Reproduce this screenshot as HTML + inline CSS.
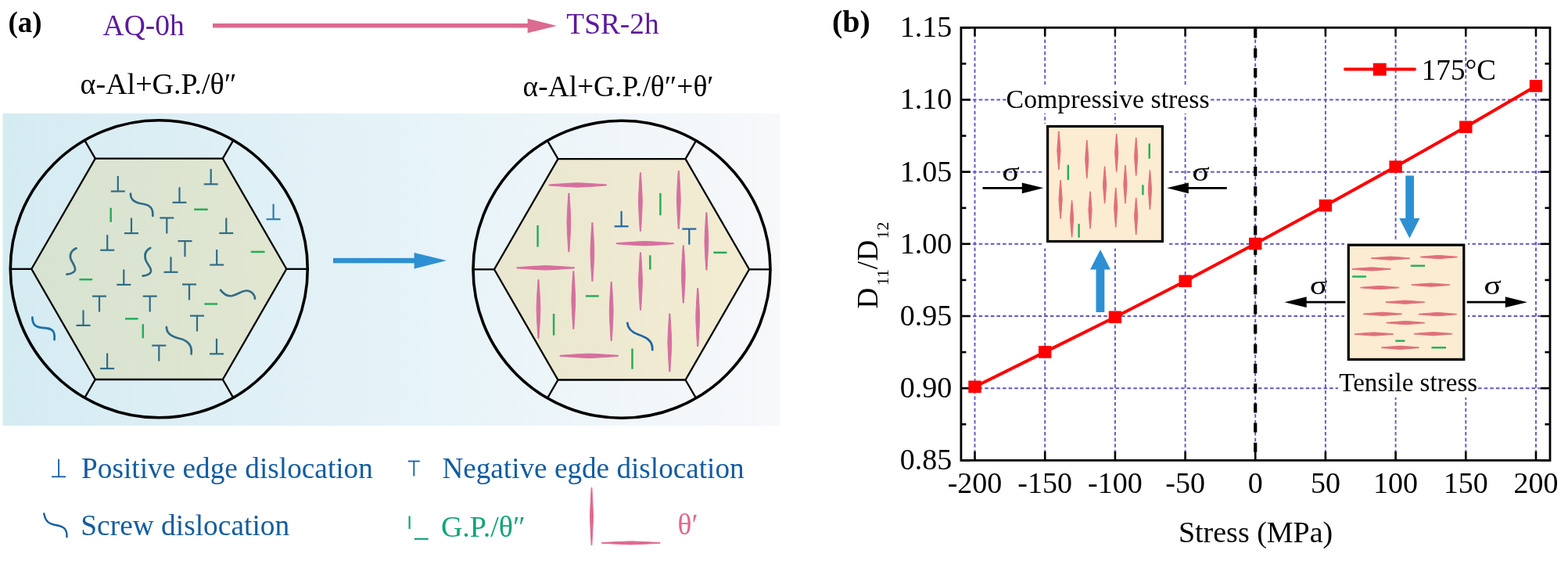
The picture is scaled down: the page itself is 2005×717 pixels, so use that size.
<!DOCTYPE html><html><head><meta charset="utf-8"><title>Figure</title><style>html,body{margin:0;padding:0;background:#fff;}svg{display:block;}</style></head><body><svg width="2005" height="717" viewBox="0 0 2005 717" font-family='"Liberation Serif", "DejaVu Serif", serif'>
<defs><linearGradient id="bg" x1="0" y1="0" x2="1" y2="0"><stop offset="0" stop-color="#d5ebf2"/><stop offset="0.5" stop-color="#e5f3f8"/><stop offset="1" stop-color="#f7f8fa"/></linearGradient><linearGradient id="hexL" x1="0" y1="0" x2="1" y2="0"><stop offset="0" stop-color="#d7e3d1"/><stop offset="1" stop-color="#e1e6d0"/></linearGradient><linearGradient id="hexR" x1="0" y1="0" x2="1" y2="0"><stop offset="0" stop-color="#e9e7d0"/><stop offset="1" stop-color="#f3ecd2"/></linearGradient></defs>
<rect x="0" y="0" width="2005" height="717" fill="#fff"/>
<text x="10.5" y="41.3" font-size="37" fill="#000" text-anchor="start" font-weight="bold" >(a)</text>
<text x="131.6" y="45.4" font-size="37.5" fill="#5c1a9c" text-anchor="start" font-weight="normal" >AQ-0h</text>
<line x1="272.0" y1="32.8" x2="676.0" y2="32.8" stroke="#dc6a91" stroke-width="5.6" />
<polygon points="674.6,23.8 712,33 674.6,42.3" fill="#dc6a91"/>
<text x="724.3" y="42.8" font-size="37.4" fill="#5c1a9c" text-anchor="start" font-weight="normal" >TSR-2h</text>
<text x="102.6" y="119.7" font-size="38" fill="#000" text-anchor="start" font-weight="normal" >α-Al+G.P./θ″</text>
<text x="668.6" y="123.4" font-size="37.4" fill="#000" text-anchor="start" font-weight="normal" >α-Al+G.P./θ″+θ′</text>
<rect x="3.5" y="145" width="993.5" height="399" fill="url(#bg)"/>
<polygon points="40.3,343.8 121.8,202.6 284.8,202.6 366.3,343.8 284.8,485.0 121.8,485.0" fill="url(#hexL)" stroke="#000" stroke-width="2.3" stroke-linejoin="miter"/>
<line x1="40.3" y1="343.8" x2="13.3" y2="343.8" stroke="#000" stroke-width="2.3" />
<line x1="121.8" y1="202.6" x2="108.3" y2="179.3" stroke="#000" stroke-width="2.3" />
<line x1="284.8" y1="202.6" x2="298.3" y2="179.3" stroke="#000" stroke-width="2.3" />
<line x1="366.3" y1="343.8" x2="393.3" y2="343.8" stroke="#000" stroke-width="2.3" />
<line x1="284.8" y1="485.0" x2="298.3" y2="508.3" stroke="#000" stroke-width="2.3" />
<line x1="121.8" y1="485.0" x2="108.3" y2="508.3" stroke="#000" stroke-width="2.3" />
<circle cx="203.3" cy="343.8" r="190" fill="none" stroke="#000" stroke-width="3.6"/>
<polygon points="632.0,344.3 713.5,203.1 876.5,203.1 958.0,344.3 876.5,485.5 713.5,485.5" fill="url(#hexR)" stroke="#000" stroke-width="2.3" stroke-linejoin="miter"/>
<line x1="632.0" y1="344.3" x2="605.0" y2="344.3" stroke="#000" stroke-width="2.3" />
<line x1="713.5" y1="203.1" x2="700.0" y2="179.8" stroke="#000" stroke-width="2.3" />
<line x1="876.5" y1="203.1" x2="890.0" y2="179.8" stroke="#000" stroke-width="2.3" />
<line x1="958.0" y1="344.3" x2="985.0" y2="344.3" stroke="#000" stroke-width="2.3" />
<line x1="876.5" y1="485.5" x2="890.0" y2="508.8" stroke="#000" stroke-width="2.3" />
<line x1="713.5" y1="485.5" x2="700.0" y2="508.8" stroke="#000" stroke-width="2.3" />
<circle cx="795.0" cy="344.3" r="190" fill="none" stroke="#000" stroke-width="3.6"/>
<line x1="150.8" y1="225.0" x2="150.8" y2="244.5" stroke="#2f6c88" stroke-width="2.2" />
<line x1="141.8" y1="244.5" x2="159.8" y2="244.5" stroke="#2f6c88" stroke-width="2.2" />
<line x1="229.5" y1="239.3" x2="229.5" y2="258.8" stroke="#2f6c88" stroke-width="2.2" />
<line x1="220.5" y1="258.8" x2="238.5" y2="258.8" stroke="#2f6c88" stroke-width="2.2" />
<line x1="269.7" y1="215.9" x2="269.7" y2="235.4" stroke="#2f6c88" stroke-width="2.2" />
<line x1="260.7" y1="235.4" x2="278.7" y2="235.4" stroke="#2f6c88" stroke-width="2.2" />
<line x1="168.0" y1="278.6" x2="168.0" y2="298.1" stroke="#2f6c88" stroke-width="2.2" />
<line x1="159.0" y1="298.1" x2="177.0" y2="298.1" stroke="#2f6c88" stroke-width="2.2" />
<line x1="289.3" y1="278.5" x2="289.3" y2="298.0" stroke="#2f6c88" stroke-width="2.2" />
<line x1="280.3" y1="298.0" x2="298.3" y2="298.0" stroke="#2f6c88" stroke-width="2.2" />
<line x1="137.2" y1="300.2" x2="137.2" y2="319.7" stroke="#2f6c88" stroke-width="2.2" />
<line x1="128.2" y1="319.7" x2="146.2" y2="319.7" stroke="#2f6c88" stroke-width="2.2" />
<line x1="277.2" y1="319.0" x2="277.2" y2="338.5" stroke="#2f6c88" stroke-width="2.2" />
<line x1="268.2" y1="338.5" x2="286.2" y2="338.5" stroke="#2f6c88" stroke-width="2.2" />
<line x1="218.5" y1="328.3" x2="218.5" y2="347.8" stroke="#2f6c88" stroke-width="2.2" />
<line x1="209.5" y1="347.8" x2="227.5" y2="347.8" stroke="#2f6c88" stroke-width="2.2" />
<line x1="158.3" y1="344.4" x2="158.3" y2="363.9" stroke="#2f6c88" stroke-width="2.2" />
<line x1="149.3" y1="363.9" x2="167.3" y2="363.9" stroke="#2f6c88" stroke-width="2.2" />
<line x1="106.5" y1="396.4" x2="106.5" y2="415.9" stroke="#2f6c88" stroke-width="2.2" />
<line x1="97.5" y1="415.9" x2="115.5" y2="415.9" stroke="#2f6c88" stroke-width="2.2" />
<line x1="137.1" y1="451.5" x2="137.1" y2="471.0" stroke="#2f6c88" stroke-width="2.2" />
<line x1="128.1" y1="471.0" x2="146.1" y2="471.0" stroke="#2f6c88" stroke-width="2.2" />
<line x1="277.0" y1="432.8" x2="277.0" y2="452.3" stroke="#2f6c88" stroke-width="2.2" />
<line x1="268.0" y1="452.3" x2="286.0" y2="452.3" stroke="#2f6c88" stroke-width="2.2" />
<line x1="349.6" y1="260.7" x2="349.6" y2="280.2" stroke="#2f7ab0" stroke-width="2.2" />
<line x1="340.6" y1="280.2" x2="358.6" y2="280.2" stroke="#2f7ab0" stroke-width="2.2" />
<line x1="204.3" y1="278.5" x2="222.3" y2="278.5" stroke="#2f6c88" stroke-width="2.2" />
<line x1="213.3" y1="278.5" x2="213.3" y2="298.5" stroke="#2f6c88" stroke-width="2.2" />
<line x1="227.5" y1="308.1" x2="245.5" y2="308.1" stroke="#2f6c88" stroke-width="2.2" />
<line x1="236.5" y1="308.1" x2="236.5" y2="328.1" stroke="#2f6c88" stroke-width="2.2" />
<line x1="118.0" y1="378.6" x2="136.0" y2="378.6" stroke="#2f6c88" stroke-width="2.2" />
<line x1="127.0" y1="378.6" x2="127.0" y2="398.6" stroke="#2f6c88" stroke-width="2.2" />
<line x1="182.7" y1="378.6" x2="200.7" y2="378.6" stroke="#2f6c88" stroke-width="2.2" />
<line x1="191.7" y1="378.6" x2="191.7" y2="398.6" stroke="#2f6c88" stroke-width="2.2" />
<line x1="194.3" y1="441.6" x2="212.3" y2="441.6" stroke="#2f6c88" stroke-width="2.2" />
<line x1="203.3" y1="441.6" x2="203.3" y2="461.6" stroke="#2f6c88" stroke-width="2.2" />
<line x1="233.0" y1="363.5" x2="251.0" y2="363.5" stroke="#2f6c88" stroke-width="2.2" />
<line x1="242.0" y1="363.5" x2="242.0" y2="383.5" stroke="#2f6c88" stroke-width="2.2" />
<line x1="243.0" y1="403.6" x2="261.0" y2="403.6" stroke="#2f6c88" stroke-width="2.2" />
<line x1="252.0" y1="403.6" x2="252.0" y2="423.6" stroke="#2f6c88" stroke-width="2.2" />
<line x1="141.7" y1="265.7" x2="141.7" y2="283.9" stroke="#27ad5a" stroke-width="2.5" />
<line x1="248.1" y1="267.7" x2="265.7" y2="267.7" stroke="#27ad5a" stroke-width="2.5" />
<line x1="320.7" y1="321.9" x2="338.5" y2="321.9" stroke="#27ad5a" stroke-width="2.5" />
<line x1="101.4" y1="357.2" x2="118.1" y2="357.2" stroke="#27ad5a" stroke-width="2.5" />
<line x1="160.0" y1="407.4" x2="176.5" y2="407.4" stroke="#27ad5a" stroke-width="2.5" />
<line x1="182.8" y1="414.3" x2="182.8" y2="432.2" stroke="#27ad5a" stroke-width="2.5" />
<line x1="261.4" y1="388.5" x2="278.1" y2="388.5" stroke="#27ad5a" stroke-width="2.5" />
<path d="M167,247.5 C166.5,257 175,259.5 182,260.5 C192,262 196,266 195.3,275.8" fill="none" stroke="#2f6c88" stroke-width="2.7" stroke-linecap="round" />
<path d="M97.6,317.3 C91,320 88.5,326 90.5,331 C92.5,336 97,341 96,345 C95,349 90,350 85.4,350.6" fill="none" stroke="#2f6c88" stroke-width="2.7" stroke-linecap="round" />
<path d="M192.3,316.9 C186,320 184.5,326 186.2,332 C188,338 194,342 193,347 C192,351 187,352 182.7,352.7" fill="none" stroke="#2f6c88" stroke-width="2.7" stroke-linecap="round" />
<path d="M282.1,370.8 C287,377 292,379 297,378 C305,376 310,371 316,371.5 C322,372 326,377 326,381.8" fill="none" stroke="#2f6c88" stroke-width="2.7" stroke-linecap="round" />
<path d="M212.9,418.1 C213,428 222,431 229,432.5 C240,435 246,441 244.6,452.3" fill="none" stroke="#2f6c88" stroke-width="2.7" stroke-linecap="round" />
<path d="M41.4,405.7 C41.5,417 48,418.5 55,419 C66,419.5 71,422 69.5,434.1" fill="none" stroke="#1f6fa8" stroke-width="2.8" stroke-linecap="round" />
<polygon points="727.90,247.00 728.14,250.74 728.38,254.48 728.60,258.22 728.82,261.96 729.03,265.70 729.22,269.44 729.40,273.18 729.57,276.92 729.70,280.66 729.80,284.40 729.70,288.14 729.57,291.88 729.40,295.62 729.22,299.36 729.03,303.10 728.82,306.84 728.60,310.58 728.38,314.32 728.14,318.06 727.90,321.80 726.90,321.80 726.66,318.06 726.42,314.32 726.20,310.58 725.98,306.84 725.77,303.10 725.58,299.36 725.40,295.62 725.23,291.88 725.10,288.14 725.00,284.40 725.10,280.66 725.23,276.92 725.40,273.18 725.58,269.44 725.77,265.70 725.98,261.96 726.20,258.22 726.42,254.48 726.66,250.74 726.90,247.00" fill="#d66f9f" stroke="#d66f9f" stroke-width="1.0" stroke-linejoin="round"/>
<polygon points="757.90,284.40 758.14,288.16 758.38,291.92 758.60,295.68 758.82,299.44 759.03,303.20 759.22,306.96 759.40,310.72 759.57,314.48 759.70,318.24 759.80,322.00 759.70,325.76 759.57,329.52 759.40,333.28 759.22,337.04 759.03,340.80 758.82,344.56 758.60,348.32 758.38,352.08 758.14,355.84 757.90,359.60 756.90,359.60 756.66,355.84 756.42,352.08 756.20,348.32 755.98,344.56 755.77,340.80 755.58,337.04 755.40,333.28 755.23,329.52 755.10,325.76 755.00,322.00 755.10,318.24 755.23,314.48 755.40,310.72 755.58,306.96 755.77,303.20 755.98,299.44 756.20,295.68 756.42,291.92 756.66,288.16 756.90,284.40" fill="#d66f9f" stroke="#d66f9f" stroke-width="1.0" stroke-linejoin="round"/>
<polygon points="819.40,220.70 819.64,224.44 819.88,228.18 820.10,231.92 820.32,235.66 820.53,239.40 820.72,243.14 820.90,246.88 821.07,250.62 821.20,254.36 821.30,258.10 821.20,261.84 821.07,265.58 820.90,269.32 820.72,273.06 820.53,276.80 820.32,280.54 820.10,284.28 819.88,288.02 819.64,291.76 819.40,295.50 818.40,295.50 818.16,291.76 817.92,288.02 817.70,284.28 817.48,280.54 817.27,276.80 817.08,273.06 816.90,269.32 816.73,265.58 816.60,261.84 816.50,258.10 816.60,254.36 816.73,250.62 816.90,246.88 817.08,243.14 817.27,239.40 817.48,235.66 817.70,231.92 817.92,228.18 818.16,224.44 818.40,220.70" fill="#d66f9f" stroke="#d66f9f" stroke-width="1.0" stroke-linejoin="round"/>
<polygon points="868.30,218.30 868.54,222.01 868.78,225.72 869.00,229.43 869.22,233.14 869.43,236.85 869.62,240.56 869.80,244.27 869.97,247.98 870.10,251.69 870.20,255.40 870.10,259.11 869.97,262.82 869.80,266.53 869.62,270.24 869.43,273.95 869.22,277.66 869.00,281.37 868.78,285.08 868.54,288.79 868.30,292.50 867.30,292.50 867.06,288.79 866.82,285.08 866.60,281.37 866.38,277.66 866.17,273.95 865.98,270.24 865.80,266.53 865.63,262.82 865.50,259.11 865.40,255.40 865.50,251.69 865.63,247.98 865.80,244.27 865.98,240.56 866.17,236.85 866.38,233.14 866.60,229.43 866.82,225.72 867.06,222.01 867.30,218.30" fill="#d66f9f" stroke="#d66f9f" stroke-width="1.0" stroke-linejoin="round"/>
<polygon points="903.90,271.70 904.14,275.37 904.38,279.04 904.60,282.71 904.82,286.38 905.03,290.05 905.22,293.72 905.40,297.39 905.57,301.06 905.70,304.73 905.80,308.40 905.70,312.07 905.57,315.74 905.40,319.41 905.22,323.08 905.03,326.75 904.82,330.42 904.60,334.09 904.38,337.76 904.14,341.43 903.90,345.10 902.90,345.10 902.66,341.43 902.42,337.76 902.20,334.09 901.98,330.42 901.77,326.75 901.58,323.08 901.40,319.41 901.23,315.74 901.10,312.07 901.00,308.40 901.10,304.73 901.23,301.06 901.40,297.39 901.58,293.72 901.77,290.05 901.98,286.38 902.20,282.71 902.42,279.04 902.66,275.37 902.90,271.70" fill="#d66f9f" stroke="#d66f9f" stroke-width="1.0" stroke-linejoin="round"/>
<polygon points="819.50,322.80 819.74,326.48 819.98,330.16 820.20,333.84 820.42,337.52 820.63,341.20 820.82,344.88 821.00,348.56 821.17,352.24 821.30,355.92 821.40,359.60 821.30,363.28 821.17,366.96 821.00,370.64 820.82,374.32 820.63,378.00 820.42,381.68 820.20,385.36 819.98,389.04 819.74,392.72 819.50,396.40 818.50,396.40 818.26,392.72 818.02,389.04 817.80,385.36 817.58,381.68 817.37,378.00 817.18,374.32 817.00,370.64 816.83,366.96 816.70,363.28 816.60,359.60 816.70,355.92 816.83,352.24 817.00,348.56 817.18,344.88 817.37,341.20 817.58,337.52 817.80,333.84 818.02,330.16 818.26,326.48 818.50,322.80" fill="#d66f9f" stroke="#d66f9f" stroke-width="1.0" stroke-linejoin="round"/>
<polygon points="874.30,313.70 874.54,317.37 874.78,321.04 875.00,324.71 875.22,328.38 875.43,332.05 875.62,335.72 875.80,339.39 875.97,343.06 876.10,346.73 876.20,350.40 876.10,354.07 875.97,357.74 875.80,361.41 875.62,365.08 875.43,368.75 875.22,372.42 875.00,376.09 874.78,379.76 874.54,383.43 874.30,387.10 873.30,387.10 873.06,383.43 872.82,379.76 872.60,376.09 872.38,372.42 872.17,368.75 871.98,365.08 871.80,361.41 871.63,357.74 871.50,354.07 871.40,350.40 871.50,346.73 871.63,343.06 871.80,339.39 871.98,335.72 872.17,332.05 872.38,328.38 872.60,324.71 872.82,321.04 873.06,317.37 873.30,313.70" fill="#d66f9f" stroke="#d66f9f" stroke-width="1.0" stroke-linejoin="round"/>
<polygon points="689.00,357.30 689.24,361.06 689.48,364.83 689.70,368.60 689.92,372.36 690.13,376.12 690.32,379.89 690.50,383.66 690.67,387.42 690.80,391.19 690.90,394.95 690.80,398.72 690.67,402.48 690.50,406.25 690.32,410.01 690.13,413.78 689.92,417.54 689.70,421.31 689.48,425.07 689.24,428.84 689.00,432.60 688.00,432.60 687.76,428.84 687.52,425.07 687.30,421.31 687.08,417.54 686.87,413.78 686.68,410.01 686.50,406.25 686.33,402.48 686.20,398.72 686.10,394.95 686.20,391.19 686.33,387.42 686.50,383.66 686.68,379.89 686.87,376.12 687.08,372.36 687.30,368.60 687.52,364.83 687.76,361.06 688.00,357.30" fill="#d66f9f" stroke="#d66f9f" stroke-width="1.0" stroke-linejoin="round"/>
<polygon points="733.80,346.60 734.04,350.30 734.28,353.99 734.50,357.69 734.72,361.38 734.93,365.08 735.12,368.77 735.30,372.47 735.47,376.16 735.60,379.86 735.70,383.55 735.60,387.25 735.47,390.94 735.30,394.63 735.12,398.33 734.93,402.02 734.72,405.72 734.50,409.42 734.28,413.11 734.04,416.81 733.80,420.50 732.80,420.50 732.56,416.81 732.32,413.11 732.10,409.42 731.88,405.72 731.67,402.02 731.48,398.33 731.30,394.63 731.13,390.94 731.00,387.25 730.90,383.55 731.00,379.86 731.13,376.16 731.30,372.47 731.48,368.77 731.67,365.08 731.88,361.38 732.10,357.69 732.32,353.99 732.56,350.30 732.80,346.60" fill="#d66f9f" stroke="#d66f9f" stroke-width="1.0" stroke-linejoin="round"/>
<polygon points="782.20,360.20 782.44,363.96 782.68,367.73 782.90,371.50 783.12,375.26 783.33,379.02 783.52,382.79 783.70,386.56 783.87,390.32 784.00,394.08 784.10,397.85 784.00,401.62 783.87,405.38 783.70,409.14 783.52,412.91 783.33,416.68 783.12,420.44 782.90,424.20 782.68,427.97 782.44,431.74 782.20,435.50 781.20,435.50 780.96,431.74 780.72,427.97 780.50,424.20 780.28,420.44 780.07,416.68 779.88,412.91 779.70,409.14 779.53,405.38 779.40,401.62 779.30,397.85 779.40,394.08 779.53,390.32 779.70,386.56 779.88,382.79 780.07,379.02 780.28,375.26 780.50,371.50 780.72,367.73 780.96,363.96 781.20,360.20" fill="#d66f9f" stroke="#d66f9f" stroke-width="1.0" stroke-linejoin="round"/>
<polygon points="892.70,368.40 892.94,372.12 893.18,375.84 893.40,379.56 893.62,383.28 893.83,387.00 894.02,390.72 894.20,394.44 894.37,398.16 894.50,401.88 894.60,405.60 894.50,409.32 894.37,413.04 894.20,416.76 894.02,420.48 893.83,424.20 893.62,427.92 893.40,431.64 893.18,435.36 892.94,439.08 892.70,442.80 891.70,442.80 891.46,439.08 891.22,435.36 891.00,431.64 890.78,427.92 890.57,424.20 890.38,420.48 890.20,416.76 890.03,413.04 889.90,409.32 889.80,405.60 889.90,401.88 890.03,398.16 890.20,394.44 890.38,390.72 890.57,387.00 890.78,383.28 891.00,379.56 891.22,375.84 891.46,372.12 891.70,368.40" fill="#d66f9f" stroke="#d66f9f" stroke-width="1.0" stroke-linejoin="round"/>
<polygon points="856.80,400.80 857.04,404.51 857.28,408.22 857.50,411.93 857.72,415.64 857.93,419.35 858.12,423.06 858.30,426.77 858.47,430.48 858.60,434.19 858.70,437.90 858.60,441.61 858.47,445.32 858.30,449.03 858.12,452.74 857.93,456.45 857.72,460.16 857.50,463.87 857.28,467.58 857.04,471.29 856.80,475.00 855.80,475.00 855.56,471.29 855.32,467.58 855.10,463.87 854.88,460.16 854.67,456.45 854.48,452.74 854.30,449.03 854.13,445.32 854.00,441.61 853.90,437.90 854.00,434.19 854.13,430.48 854.30,426.77 854.48,423.06 854.67,419.35 854.88,415.64 855.10,411.93 855.32,408.22 855.56,404.51 855.80,400.80" fill="#d66f9f" stroke="#d66f9f" stroke-width="1.0" stroke-linejoin="round"/>
<polygon points="702.10,236.00 705.77,235.74 709.44,235.48 713.11,235.23 716.78,234.99 720.45,234.76 724.12,234.53 727.79,234.32 731.46,234.12 735.13,233.94 738.80,233.80 742.47,233.94 746.14,234.12 749.81,234.32 753.48,234.53 757.15,234.76 760.82,234.99 764.49,235.23 768.16,235.48 771.83,235.74 775.50,236.00 775.50,237.00 771.83,237.26 768.16,237.52 764.49,237.77 760.82,238.01 757.15,238.24 753.48,238.47 749.81,238.68 746.14,238.88 742.47,239.06 738.80,239.20 735.13,239.06 731.46,238.88 727.79,238.68 724.12,238.47 720.45,238.24 716.78,238.01 713.11,237.77 709.44,237.52 705.77,237.26 702.10,237.00" fill="#d66f9f" stroke="#d66f9f" stroke-width="1.0" stroke-linejoin="round"/>
<polygon points="788.20,310.70 791.86,310.44 795.51,310.18 799.17,309.93 802.82,309.69 806.48,309.46 810.13,309.23 813.78,309.02 817.44,308.82 821.10,308.64 824.75,308.50 828.40,308.64 832.06,308.82 835.72,309.02 839.37,309.23 843.02,309.46 846.68,309.69 850.33,309.93 853.99,310.18 857.64,310.44 861.30,310.70 861.30,311.70 857.64,311.96 853.99,312.22 850.33,312.47 846.68,312.71 843.02,312.94 839.37,313.17 835.72,313.38 832.06,313.58 828.40,313.76 824.75,313.90 821.10,313.76 817.44,313.58 813.78,313.38 810.13,313.17 806.48,312.94 802.82,312.71 799.17,312.47 795.51,312.22 791.86,311.96 788.20,311.70" fill="#d66f9f" stroke="#d66f9f" stroke-width="1.0" stroke-linejoin="round"/>
<polygon points="660.80,341.80 664.48,341.54 668.17,341.28 671.86,341.03 675.54,340.79 679.22,340.56 682.91,340.33 686.60,340.12 690.28,339.92 693.96,339.74 697.65,339.60 701.34,339.74 705.02,339.92 708.70,340.12 712.39,340.33 716.08,340.56 719.76,340.79 723.44,341.03 727.13,341.28 730.82,341.54 734.50,341.80 734.50,342.80 730.82,343.06 727.13,343.32 723.44,343.57 719.76,343.81 716.08,344.04 712.39,344.27 708.70,344.48 705.02,344.68 701.34,344.86 697.65,345.00 693.96,344.86 690.28,344.68 686.60,344.48 682.91,344.27 679.22,344.04 675.54,343.81 671.86,343.57 668.17,343.32 664.48,343.06 660.80,342.80" fill="#d66f9f" stroke="#d66f9f" stroke-width="1.0" stroke-linejoin="round"/>
<polygon points="716.00,454.30 719.73,454.04 723.45,453.78 727.17,453.53 730.90,453.29 734.62,453.06 738.35,452.83 742.08,452.62 745.80,452.42 749.52,452.24 753.25,452.10 756.98,452.24 760.70,452.42 764.42,452.62 768.15,452.83 771.88,453.06 775.60,453.29 779.33,453.53 783.05,453.78 786.77,454.04 790.50,454.30 790.50,455.30 786.77,455.56 783.05,455.82 779.33,456.07 775.60,456.31 771.88,456.54 768.15,456.77 764.42,456.98 760.70,457.18 756.98,457.36 753.25,457.50 749.52,457.36 745.80,457.18 742.08,456.98 738.35,456.77 734.62,456.54 730.90,456.31 727.17,456.07 723.45,455.82 719.73,455.56 716.00,455.30" fill="#d66f9f" stroke="#d66f9f" stroke-width="1.0" stroke-linejoin="round"/>
<line x1="687.6" y1="287.9" x2="687.6" y2="315.6" stroke="#27ad5a" stroke-width="2.5" />
<line x1="844.4" y1="246.9" x2="844.4" y2="275.2" stroke="#27ad5a" stroke-width="2.5" />
<line x1="831.3" y1="326.3" x2="831.3" y2="344.5" stroke="#27ad5a" stroke-width="2.5" />
<line x1="708.1" y1="401.0" x2="708.1" y2="428.6" stroke="#27ad5a" stroke-width="2.5" />
<line x1="808.5" y1="445.6" x2="808.5" y2="471.7" stroke="#27ad5a" stroke-width="2.5" />
<line x1="748.9" y1="378.4" x2="765.7" y2="378.4" stroke="#27ad5a" stroke-width="2.5" />
<line x1="912.3" y1="322.8" x2="929.5" y2="322.8" stroke="#27ad5a" stroke-width="2.5" />
<line x1="794.6" y1="269.8" x2="794.6" y2="289.3" stroke="#1f66a3" stroke-width="2.2" />
<line x1="785.6" y1="289.3" x2="803.6" y2="289.3" stroke="#1f66a3" stroke-width="2.2" />
<line x1="872.3" y1="292.6" x2="890.3" y2="292.6" stroke="#1f66a3" stroke-width="2.2" />
<line x1="881.3" y1="292.6" x2="881.3" y2="312.6" stroke="#1f66a3" stroke-width="2.2" />
<path d="M802.3,413 C803,421 809,425 816,427.5 C826,431 835,435 834.2,447.1" fill="none" stroke="#1f66a3" stroke-width="2.8" stroke-linecap="round" />
<rect x="426" y="329.8" width="104.5" height="6.5" fill="#2c90d3"/>
<polygon points="529.6,322.9 571,333.1 529.6,343.4" fill="#2c90d3"/>
<line x1="75.1" y1="586.8" x2="75.1" y2="609.3" stroke="#135ca0" stroke-width="1.8" />
<line x1="66.1" y1="609.3" x2="84.1" y2="609.3" stroke="#135ca0" stroke-width="1.8" />
<text x="104.0" y="611.0" font-size="37.3" fill="#135ca0" text-anchor="start" font-weight="normal" >Positive edge dislocation</text>
<line x1="521.8" y1="589.5" x2="536.8" y2="589.5" stroke="#135ca0" stroke-width="1.8" />
<line x1="529.3" y1="589.5" x2="529.3" y2="608.5" stroke="#135ca0" stroke-width="1.8" />
<text x="565.4" y="610.8" font-size="37.2" fill="#135ca0" text-anchor="start" font-weight="normal" >Negative egde dislocation</text>
<path d="M56.3,656.4 C58,667 63,669.5 71,671 C80,672.5 86,675 85.5,686.2" fill="none" stroke="#135ca0" stroke-width="2.4" stroke-linecap="round" />
<text x="103.3" y="684.0" font-size="37.4" fill="#135ca0" text-anchor="start" font-weight="normal" >Screw dislocation</text>
<line x1="523.6" y1="659.5" x2="523.6" y2="676.0" stroke="#12a47a" stroke-width="2.2" />
<line x1="529.8" y1="688.8" x2="547.7" y2="688.8" stroke="#12a47a" stroke-width="2.2" />
<text x="563.9" y="685.9" font-size="38" fill="#12a47a" text-anchor="start" font-weight="normal" >G.P./θ″</text>
<polygon points="756.80,623.30 757.00,626.97 757.20,630.65 757.39,634.32 757.58,638.00 757.76,641.67 757.93,645.35 758.10,649.02 758.25,652.70 758.39,656.38 758.50,660.05 758.39,663.72 758.25,667.40 758.10,671.07 757.93,674.75 757.76,678.42 757.58,682.10 757.39,685.77 757.20,689.45 757.00,693.12 756.80,696.80 756.20,696.80 756.00,693.12 755.80,689.45 755.61,685.77 755.42,682.10 755.24,678.42 755.07,674.75 754.90,671.07 754.75,667.40 754.61,663.72 754.50,660.05 754.61,656.38 754.75,652.70 754.90,649.02 755.07,645.35 755.24,641.67 755.42,638.00 755.61,634.32 755.80,630.65 756.00,626.97 756.20,623.30" fill="#e0688e" stroke="#e0688e" stroke-width="1.0" stroke-linejoin="round"/>
<polygon points="769.40,693.60 773.13,693.40 776.87,693.20 780.61,693.01 784.34,692.82 788.08,692.64 791.81,692.47 795.54,692.30 799.28,692.15 803.01,692.01 806.75,691.90 810.49,692.01 814.22,692.15 817.96,692.30 821.69,692.47 825.42,692.64 829.16,692.82 832.89,693.01 836.63,693.20 840.37,693.40 844.10,693.60 844.10,694.20 840.37,694.40 836.63,694.60 832.89,694.79 829.16,694.98 825.42,695.16 821.69,695.33 817.96,695.50 814.22,695.65 810.49,695.79 806.75,695.90 803.01,695.79 799.28,695.65 795.54,695.50 791.81,695.33 788.08,695.16 784.34,694.98 780.61,694.79 776.87,694.60 773.13,694.40 769.40,694.20" fill="#e0688e" stroke="#e0688e" stroke-width="1.0" stroke-linejoin="round"/>
<text x="866.5" y="683.4" font-size="37.4" fill="#e0688e" text-anchor="start" font-weight="normal" >θ′</text>
<text x="1063.9" y="41.3" font-size="40" fill="#000" text-anchor="start" font-weight="bold" >(b)</text>
<line x1="1246.5" y1="35.3" x2="1246.5" y2="588.4" stroke="#5e56c4" stroke-width="1.9" stroke-dasharray="4.5 3.1"/>
<line x1="1336.2" y1="35.3" x2="1336.2" y2="588.4" stroke="#5e56c4" stroke-width="1.9" stroke-dasharray="4.5 3.1"/>
<line x1="1425.9" y1="35.3" x2="1425.9" y2="588.4" stroke="#5e56c4" stroke-width="1.9" stroke-dasharray="4.5 3.1"/>
<line x1="1515.6" y1="35.3" x2="1515.6" y2="588.4" stroke="#5e56c4" stroke-width="1.9" stroke-dasharray="4.5 3.1"/>
<line x1="1694.9" y1="35.3" x2="1694.9" y2="588.4" stroke="#5e56c4" stroke-width="1.9" stroke-dasharray="4.5 3.1"/>
<line x1="1784.6" y1="35.3" x2="1784.6" y2="588.4" stroke="#5e56c4" stroke-width="1.9" stroke-dasharray="4.5 3.1"/>
<line x1="1874.3" y1="35.3" x2="1874.3" y2="588.4" stroke="#5e56c4" stroke-width="1.9" stroke-dasharray="4.5 3.1"/>
<line x1="1964.0" y1="35.3" x2="1964.0" y2="588.4" stroke="#5e56c4" stroke-width="1.9" stroke-dasharray="4.5 3.1"/>
<line x1="1228.9" y1="496.2" x2="1982.0" y2="496.2" stroke="#5e56c4" stroke-width="1.9" stroke-dasharray="4.5 3.1"/>
<line x1="1228.9" y1="404.0" x2="1982.0" y2="404.0" stroke="#5e56c4" stroke-width="1.9" stroke-dasharray="4.5 3.1"/>
<line x1="1228.9" y1="311.8" x2="1982.0" y2="311.8" stroke="#5e56c4" stroke-width="1.9" stroke-dasharray="4.5 3.1"/>
<line x1="1228.9" y1="219.7" x2="1982.0" y2="219.7" stroke="#5e56c4" stroke-width="1.9" stroke-dasharray="4.5 3.1"/>
<line x1="1228.9" y1="127.5" x2="1982.0" y2="127.5" stroke="#5e56c4" stroke-width="1.9" stroke-dasharray="4.5 3.1"/>
<line x1="1605.2" y1="35.3" x2="1605.2" y2="588.4" stroke="#5e56c4" stroke-width="1.9" stroke-dasharray="4.5 3.1"/>
<line x1="1605.2" y1="35.3" x2="1605.2" y2="588.4" stroke="#000" stroke-width="4.2" stroke-dasharray="12 13.2" stroke-dashoffset="-1.3"/>
<rect x="1228.9" y="35.3" width="753.1" height="553.1" fill="none" stroke="#000" stroke-width="2.8"/>
<line x1="1246.5" y1="588.4" x2="1246.5" y2="576.9" stroke="#000" stroke-width="2.6" />
<line x1="1246.5" y1="35.3" x2="1246.5" y2="46.3" stroke="#000" stroke-width="2.6" />
<line x1="1336.2" y1="588.4" x2="1336.2" y2="576.9" stroke="#000" stroke-width="2.6" />
<line x1="1336.2" y1="35.3" x2="1336.2" y2="46.3" stroke="#000" stroke-width="2.6" />
<line x1="1425.9" y1="588.4" x2="1425.9" y2="576.9" stroke="#000" stroke-width="2.6" />
<line x1="1425.9" y1="35.3" x2="1425.9" y2="46.3" stroke="#000" stroke-width="2.6" />
<line x1="1515.6" y1="588.4" x2="1515.6" y2="576.9" stroke="#000" stroke-width="2.6" />
<line x1="1515.6" y1="35.3" x2="1515.6" y2="46.3" stroke="#000" stroke-width="2.6" />
<line x1="1605.2" y1="588.4" x2="1605.2" y2="576.9" stroke="#000" stroke-width="2.6" />
<line x1="1605.2" y1="35.3" x2="1605.2" y2="46.3" stroke="#000" stroke-width="2.6" />
<line x1="1694.9" y1="588.4" x2="1694.9" y2="576.9" stroke="#000" stroke-width="2.6" />
<line x1="1694.9" y1="35.3" x2="1694.9" y2="46.3" stroke="#000" stroke-width="2.6" />
<line x1="1784.6" y1="588.4" x2="1784.6" y2="576.9" stroke="#000" stroke-width="2.6" />
<line x1="1784.6" y1="35.3" x2="1784.6" y2="46.3" stroke="#000" stroke-width="2.6" />
<line x1="1874.3" y1="588.4" x2="1874.3" y2="576.9" stroke="#000" stroke-width="2.6" />
<line x1="1874.3" y1="35.3" x2="1874.3" y2="46.3" stroke="#000" stroke-width="2.6" />
<line x1="1964.0" y1="588.4" x2="1964.0" y2="576.9" stroke="#000" stroke-width="2.6" />
<line x1="1964.0" y1="35.3" x2="1964.0" y2="46.3" stroke="#000" stroke-width="2.6" />
<line x1="1228.9" y1="588.4" x2="1240.9" y2="588.4" stroke="#000" stroke-width="2.6" />
<line x1="1982.0" y1="588.4" x2="1970.0" y2="588.4" stroke="#000" stroke-width="2.6" />
<line x1="1228.9" y1="496.2" x2="1240.9" y2="496.2" stroke="#000" stroke-width="2.6" />
<line x1="1982.0" y1="496.2" x2="1970.0" y2="496.2" stroke="#000" stroke-width="2.6" />
<line x1="1228.9" y1="404.0" x2="1240.9" y2="404.0" stroke="#000" stroke-width="2.6" />
<line x1="1982.0" y1="404.0" x2="1970.0" y2="404.0" stroke="#000" stroke-width="2.6" />
<line x1="1228.9" y1="311.8" x2="1240.9" y2="311.8" stroke="#000" stroke-width="2.6" />
<line x1="1982.0" y1="311.8" x2="1970.0" y2="311.8" stroke="#000" stroke-width="2.6" />
<line x1="1228.9" y1="219.7" x2="1240.9" y2="219.7" stroke="#000" stroke-width="2.6" />
<line x1="1982.0" y1="219.7" x2="1970.0" y2="219.7" stroke="#000" stroke-width="2.6" />
<line x1="1228.9" y1="127.5" x2="1240.9" y2="127.5" stroke="#000" stroke-width="2.6" />
<line x1="1982.0" y1="127.5" x2="1970.0" y2="127.5" stroke="#000" stroke-width="2.6" />
<line x1="1228.9" y1="35.3" x2="1240.9" y2="35.3" stroke="#000" stroke-width="2.6" />
<line x1="1982.0" y1="35.3" x2="1970.0" y2="35.3" stroke="#000" stroke-width="2.6" />
<line x1="1228.9" y1="542.3" x2="1235.4" y2="542.3" stroke="#000" stroke-width="2.6" />
<line x1="1982.0" y1="542.3" x2="1975.5" y2="542.3" stroke="#000" stroke-width="2.6" />
<line x1="1228.9" y1="450.1" x2="1235.4" y2="450.1" stroke="#000" stroke-width="2.6" />
<line x1="1982.0" y1="450.1" x2="1975.5" y2="450.1" stroke="#000" stroke-width="2.6" />
<line x1="1228.9" y1="357.9" x2="1235.4" y2="357.9" stroke="#000" stroke-width="2.6" />
<line x1="1982.0" y1="357.9" x2="1975.5" y2="357.9" stroke="#000" stroke-width="2.6" />
<line x1="1228.9" y1="265.8" x2="1235.4" y2="265.8" stroke="#000" stroke-width="2.6" />
<line x1="1982.0" y1="265.8" x2="1975.5" y2="265.8" stroke="#000" stroke-width="2.6" />
<line x1="1228.9" y1="173.6" x2="1235.4" y2="173.6" stroke="#000" stroke-width="2.6" />
<line x1="1982.0" y1="173.6" x2="1975.5" y2="173.6" stroke="#000" stroke-width="2.6" />
<line x1="1228.9" y1="81.4" x2="1235.4" y2="81.4" stroke="#000" stroke-width="2.6" />
<line x1="1982.0" y1="81.4" x2="1975.5" y2="81.4" stroke="#000" stroke-width="2.6" />
<text x="1246.5" y="630.2" font-size="38" fill="#000" text-anchor="middle" font-weight="normal" >-200</text>
<text x="1336.2" y="630.2" font-size="38" fill="#000" text-anchor="middle" font-weight="normal" >-150</text>
<text x="1425.9" y="630.2" font-size="38" fill="#000" text-anchor="middle" font-weight="normal" >-100</text>
<text x="1515.6" y="630.2" font-size="38" fill="#000" text-anchor="middle" font-weight="normal" >-50</text>
<text x="1605.2" y="630.2" font-size="38" fill="#000" text-anchor="middle" font-weight="normal" >0</text>
<text x="1694.9" y="630.2" font-size="38" fill="#000" text-anchor="middle" font-weight="normal" >50</text>
<text x="1784.6" y="630.2" font-size="38" fill="#000" text-anchor="middle" font-weight="normal" >100</text>
<text x="1874.3" y="630.2" font-size="38" fill="#000" text-anchor="middle" font-weight="normal" >150</text>
<text x="1964.0" y="630.2" font-size="38" fill="#000" text-anchor="middle" font-weight="normal" >200</text>
<text x="1217.2" y="600.3" font-size="38" fill="#000" text-anchor="end" font-weight="normal" >0.85</text>
<text x="1217.2" y="508.1" font-size="38" fill="#000" text-anchor="end" font-weight="normal" >0.90</text>
<text x="1217.2" y="415.9" font-size="38" fill="#000" text-anchor="end" font-weight="normal" >0.95</text>
<text x="1217.2" y="323.7" font-size="38" fill="#000" text-anchor="end" font-weight="normal" >1.00</text>
<text x="1217.2" y="231.6" font-size="38" fill="#000" text-anchor="end" font-weight="normal" >1.05</text>
<text x="1217.2" y="139.4" font-size="38" fill="#000" text-anchor="end" font-weight="normal" >1.10</text>
<text x="1217.2" y="47.2" font-size="38" fill="#000" text-anchor="end" font-weight="normal" >1.15</text>
<text x="1506.9" y="692.7" font-size="38" fill="#000" text-anchor="start" font-weight="normal" >Stress (MPa)</text>
<g transform="translate(1122.3,394.4) rotate(-90)"><text x="0" y="0" font-size="37">D</text><text x="29.2" y="13.3" font-size="22">11</text><text x="50.1" y="0" font-size="37">/</text><text x="60.8" y="0" font-size="37">D</text><text x="89.0" y="13.3" font-size="22">12</text></g>
<rect x="1287" y="110" width="260" height="35" fill="#fff"/>
<rect x="1333" y="158" width="161" height="159.5" fill="#fff"/>
<text x="1286.6" y="137.9" font-size="33.8" fill="#000" text-anchor="start" font-weight="normal" >Compressive stress</text>
<rect x="1339.6" y="161.5" width="146.8" height="147" fill="#fcecd2" stroke="#000" stroke-width="3.2"/>
<polygon points="1354.15,167.90 1354.35,170.34 1354.55,172.77 1354.75,175.21 1354.95,177.64 1355.14,180.07 1355.32,182.51 1355.51,184.94 1355.69,187.38 1355.85,189.81 1356.00,192.25 1355.85,194.69 1355.69,197.12 1355.51,199.56 1355.32,201.99 1355.14,204.43 1354.95,206.86 1354.75,209.29 1354.55,211.73 1354.35,214.16 1354.15,216.60 1353.65,216.60 1353.45,214.16 1353.25,211.73 1353.05,209.29 1352.85,206.86 1352.66,204.43 1352.48,201.99 1352.29,199.56 1352.11,197.12 1351.95,194.69 1351.80,192.25 1351.95,189.81 1352.11,187.38 1352.29,184.94 1352.48,182.51 1352.66,180.07 1352.85,177.64 1353.05,175.21 1353.25,172.77 1353.45,170.34 1353.65,167.90" fill="#e06f7a" stroke="#e06f7a" stroke-width="1.0" stroke-linejoin="round"/>
<polygon points="1390.05,179.10 1390.25,181.53 1390.45,183.97 1390.65,186.41 1390.85,188.84 1391.04,191.28 1391.22,193.71 1391.41,196.15 1391.59,198.58 1391.75,201.02 1391.90,203.45 1391.75,205.88 1391.59,208.32 1391.41,210.75 1391.22,213.19 1391.04,215.62 1390.85,218.06 1390.65,220.50 1390.45,222.93 1390.25,225.37 1390.05,227.80 1389.55,227.80 1389.35,225.37 1389.15,222.93 1388.95,220.50 1388.75,218.06 1388.56,215.62 1388.38,213.19 1388.19,210.75 1388.01,208.32 1387.85,205.88 1387.70,203.45 1387.85,201.02 1388.01,198.58 1388.19,196.15 1388.38,193.71 1388.56,191.28 1388.75,188.84 1388.95,186.41 1389.15,183.97 1389.35,181.53 1389.55,179.10" fill="#e06f7a" stroke="#e06f7a" stroke-width="1.0" stroke-linejoin="round"/>
<polygon points="1427.95,171.10 1428.15,173.53 1428.35,175.97 1428.55,178.41 1428.75,180.84 1428.94,183.28 1429.12,185.71 1429.31,188.15 1429.49,190.58 1429.65,193.02 1429.80,195.45 1429.65,197.88 1429.49,200.32 1429.31,202.75 1429.12,205.19 1428.94,207.62 1428.75,210.06 1428.55,212.50 1428.35,214.93 1428.15,217.37 1427.95,219.80 1427.45,219.80 1427.25,217.37 1427.05,214.93 1426.85,212.50 1426.65,210.06 1426.46,207.62 1426.28,205.19 1426.09,202.75 1425.91,200.32 1425.75,197.88 1425.60,195.45 1425.75,193.02 1425.91,190.58 1426.09,188.15 1426.28,185.71 1426.46,183.28 1426.65,180.84 1426.85,178.41 1427.05,175.97 1427.25,173.53 1427.45,171.10" fill="#e06f7a" stroke="#e06f7a" stroke-width="1.0" stroke-linejoin="round"/>
<polygon points="1452.95,175.90 1453.15,178.34 1453.35,180.77 1453.55,183.21 1453.75,185.64 1453.94,188.07 1454.12,190.51 1454.31,192.94 1454.49,195.38 1454.65,197.81 1454.80,200.25 1454.65,202.69 1454.49,205.12 1454.31,207.56 1454.12,209.99 1453.94,212.43 1453.75,214.86 1453.55,217.29 1453.35,219.73 1453.15,222.16 1452.95,224.60 1452.45,224.60 1452.25,222.16 1452.05,219.73 1451.85,217.29 1451.65,214.86 1451.46,212.43 1451.28,209.99 1451.09,207.56 1450.91,205.12 1450.75,202.69 1450.60,200.25 1450.75,197.81 1450.91,195.38 1451.09,192.94 1451.28,190.51 1451.46,188.07 1451.65,185.64 1451.85,183.21 1452.05,180.77 1452.25,178.34 1452.45,175.90" fill="#e06f7a" stroke="#e06f7a" stroke-width="1.0" stroke-linejoin="round"/>
<polygon points="1356.35,230.40 1356.55,232.84 1356.75,235.28 1356.95,237.72 1357.15,240.16 1357.34,242.60 1357.52,245.04 1357.71,247.48 1357.89,249.92 1358.05,252.36 1358.20,254.80 1358.05,257.24 1357.89,259.68 1357.71,262.12 1357.52,264.56 1357.34,267.00 1357.15,269.44 1356.95,271.88 1356.75,274.32 1356.55,276.76 1356.35,279.20 1355.85,279.20 1355.65,276.76 1355.45,274.32 1355.25,271.88 1355.05,269.44 1354.86,267.00 1354.68,264.56 1354.49,262.12 1354.31,259.68 1354.15,257.24 1354.00,254.80 1354.15,252.36 1354.31,249.92 1354.49,247.48 1354.68,245.04 1354.86,242.60 1355.05,240.16 1355.25,237.72 1355.45,235.28 1355.65,232.84 1355.85,230.40" fill="#e06f7a" stroke="#e06f7a" stroke-width="1.0" stroke-linejoin="round"/>
<polygon points="1370.85,256.10 1371.05,258.46 1371.25,260.81 1371.45,263.17 1371.65,265.52 1371.84,267.88 1372.02,270.23 1372.21,272.59 1372.39,274.94 1372.55,277.30 1372.70,279.65 1372.55,282.00 1372.39,284.36 1372.21,286.72 1372.02,289.07 1371.84,291.43 1371.65,293.78 1371.45,296.13 1371.25,298.49 1371.05,300.85 1370.85,303.20 1370.35,303.20 1370.15,300.85 1369.95,298.49 1369.75,296.13 1369.55,293.78 1369.36,291.43 1369.18,289.07 1368.99,286.72 1368.81,284.36 1368.65,282.00 1368.50,279.65 1368.65,277.30 1368.81,274.94 1368.99,272.59 1369.18,270.23 1369.36,267.88 1369.55,265.52 1369.75,263.17 1369.95,260.81 1370.15,258.46 1370.35,256.10" fill="#e06f7a" stroke="#e06f7a" stroke-width="1.0" stroke-linejoin="round"/>
<polygon points="1394.25,244.90 1394.45,247.25 1394.65,249.61 1394.85,251.97 1395.05,254.32 1395.24,256.68 1395.42,259.03 1395.61,261.38 1395.79,263.74 1395.95,266.10 1396.10,268.45 1395.95,270.81 1395.79,273.16 1395.61,275.51 1395.42,277.87 1395.24,280.23 1395.05,282.58 1394.85,284.94 1394.65,287.29 1394.45,289.64 1394.25,292.00 1393.75,292.00 1393.55,289.64 1393.35,287.29 1393.15,284.94 1392.95,282.58 1392.76,280.23 1392.58,277.87 1392.39,275.51 1392.21,273.16 1392.05,270.81 1391.90,268.45 1392.05,266.10 1392.21,263.74 1392.39,261.38 1392.58,259.03 1392.76,256.68 1392.95,254.32 1393.15,251.97 1393.35,249.61 1393.55,247.25 1393.75,244.90" fill="#e06f7a" stroke="#e06f7a" stroke-width="1.0" stroke-linejoin="round"/>
<polygon points="1412.85,212.80 1413.05,215.16 1413.25,217.51 1413.45,219.87 1413.65,222.22 1413.84,224.57 1414.02,226.93 1414.21,229.28 1414.39,231.64 1414.55,234.00 1414.70,236.35 1414.55,238.70 1414.39,241.06 1414.21,243.41 1414.02,245.77 1413.84,248.12 1413.65,250.48 1413.45,252.83 1413.25,255.19 1413.05,257.54 1412.85,259.90 1412.35,259.90 1412.15,257.54 1411.95,255.19 1411.75,252.83 1411.55,250.48 1411.36,248.12 1411.18,245.77 1410.99,243.41 1410.81,241.06 1410.65,238.70 1410.50,236.35 1410.65,234.00 1410.81,231.64 1410.99,229.28 1411.18,226.93 1411.36,224.57 1411.55,222.22 1411.75,219.87 1411.95,217.51 1412.15,215.16 1412.35,212.80" fill="#e06f7a" stroke="#e06f7a" stroke-width="1.0" stroke-linejoin="round"/>
<polygon points="1439.15,211.20 1439.35,213.63 1439.55,216.07 1439.75,218.50 1439.95,220.94 1440.14,223.38 1440.32,225.81 1440.51,228.24 1440.69,230.68 1440.85,233.11 1441.00,235.55 1440.85,237.98 1440.69,240.42 1440.51,242.85 1440.32,245.29 1440.14,247.72 1439.95,250.16 1439.75,252.59 1439.55,255.03 1439.35,257.46 1439.15,259.90 1438.65,259.90 1438.45,257.46 1438.25,255.03 1438.05,252.59 1437.85,250.16 1437.66,247.72 1437.48,245.29 1437.29,242.85 1437.11,240.42 1436.95,237.98 1436.80,235.55 1436.95,233.11 1437.11,230.68 1437.29,228.24 1437.48,225.81 1437.66,223.38 1437.85,220.94 1438.05,218.50 1438.25,216.07 1438.45,213.63 1438.65,211.20" fill="#e06f7a" stroke="#e06f7a" stroke-width="1.0" stroke-linejoin="round"/>
<polygon points="1426.95,240.10 1427.15,242.61 1427.35,245.13 1427.55,247.64 1427.75,250.16 1427.94,252.67 1428.12,255.19 1428.31,257.70 1428.49,260.22 1428.65,262.74 1428.80,265.25 1428.65,267.76 1428.49,270.28 1428.31,272.79 1428.12,275.31 1427.94,277.82 1427.75,280.34 1427.55,282.85 1427.35,285.37 1427.15,287.88 1426.95,290.40 1426.45,290.40 1426.25,287.88 1426.05,285.37 1425.85,282.85 1425.65,280.34 1425.46,277.82 1425.28,275.31 1425.09,272.79 1424.91,270.28 1424.75,267.76 1424.60,265.25 1424.75,262.74 1424.91,260.22 1425.09,257.70 1425.28,255.19 1425.46,252.67 1425.65,250.16 1425.85,247.64 1426.05,245.13 1426.25,242.61 1426.45,240.10" fill="#e06f7a" stroke="#e06f7a" stroke-width="1.0" stroke-linejoin="round"/>
<polygon points="1452.95,252.90 1453.15,255.25 1453.35,257.61 1453.55,259.97 1453.75,262.32 1453.94,264.68 1454.12,267.03 1454.31,269.38 1454.49,271.74 1454.65,274.10 1454.80,276.45 1454.65,278.81 1454.49,281.16 1454.31,283.51 1454.12,285.87 1453.94,288.23 1453.75,290.58 1453.55,292.94 1453.35,295.29 1453.15,297.64 1452.95,300.00 1452.45,300.00 1452.25,297.64 1452.05,295.29 1451.85,292.94 1451.65,290.58 1451.46,288.23 1451.28,285.87 1451.09,283.51 1450.91,281.16 1450.75,278.81 1450.60,276.45 1450.75,274.10 1450.91,271.74 1451.09,269.38 1451.28,267.03 1451.46,264.68 1451.65,262.32 1451.85,259.97 1452.05,257.61 1452.25,255.25 1452.45,252.90" fill="#e06f7a" stroke="#e06f7a" stroke-width="1.0" stroke-linejoin="round"/>
<polygon points="1470.65,217.60 1470.85,220.11 1471.05,222.63 1471.25,225.14 1471.45,227.66 1471.64,230.17 1471.82,232.69 1472.01,235.20 1472.19,237.72 1472.35,240.23 1472.50,242.75 1472.35,245.26 1472.19,247.78 1472.01,250.29 1471.82,252.81 1471.64,255.32 1471.45,257.84 1471.25,260.35 1471.05,262.87 1470.85,265.38 1470.65,267.90 1470.15,267.90 1469.95,265.38 1469.75,262.87 1469.55,260.35 1469.35,257.84 1469.16,255.32 1468.98,252.81 1468.79,250.29 1468.61,247.78 1468.45,245.26 1468.30,242.75 1468.45,240.23 1468.61,237.72 1468.79,235.20 1468.98,232.69 1469.16,230.17 1469.35,227.66 1469.55,225.14 1469.75,222.63 1469.95,220.11 1470.15,217.60" fill="#e06f7a" stroke="#e06f7a" stroke-width="1.0" stroke-linejoin="round"/>
<line x1="1365.8" y1="210.7" x2="1365.8" y2="229.9" stroke="#27ad5a" stroke-width="2.4" />
<line x1="1469.7" y1="183.4" x2="1469.7" y2="202.7" stroke="#27ad5a" stroke-width="2.4" />
<line x1="1461.4" y1="236.3" x2="1461.4" y2="249.2" stroke="#27ad5a" stroke-width="2.4" />
<line x1="1379.6" y1="286.1" x2="1379.6" y2="303.7" stroke="#27ad5a" stroke-width="2.4" />
<line x1="1256.5" y1="240.3" x2="1308.0" y2="240.3" stroke="#000" stroke-width="2.8" />
<polygon points="1306.8,233.4 1334.4,240.3 1306.8,247.2" fill="#000"/>
<line x1="1519.0" y1="240.3" x2="1568.8" y2="240.3" stroke="#000" stroke-width="2.8" />
<polygon points="1519.8,233.4 1492.2,240.3 1519.8,247.2" fill="#000"/>
<text x="0" y="0" font-size="33" transform="translate(1281.3,231.2) scale(1.27,1)">σ</text>
<text x="0" y="0" font-size="33" transform="translate(1524.2,231.2) scale(1.27,1)">σ</text>
<rect x="1719" y="306" width="158" height="156" fill="#fff"/>
<rect x="1724.3" y="313.1" width="147.5" height="146.3" fill="#fcecd2" stroke="#000" stroke-width="3.2"/>
<polygon points="1753.60,329.85 1756.04,329.65 1758.48,329.45 1760.92,329.25 1763.36,329.05 1765.80,328.86 1768.24,328.68 1770.68,328.49 1773.12,328.31 1775.56,328.15 1778.00,328.00 1780.44,328.15 1782.88,328.31 1785.32,328.49 1787.76,328.68 1790.20,328.86 1792.64,329.05 1795.08,329.25 1797.52,329.45 1799.96,329.65 1802.40,329.85 1802.40,330.35 1799.96,330.55 1797.52,330.75 1795.08,330.95 1792.64,331.15 1790.20,331.34 1787.76,331.52 1785.32,331.71 1782.88,331.89 1780.44,332.05 1778.00,332.20 1775.56,332.05 1773.12,331.89 1770.68,331.71 1768.24,331.52 1765.80,331.34 1763.36,331.15 1760.92,330.95 1758.48,330.75 1756.04,330.55 1753.60,330.35" fill="#e06f7a" stroke="#e06f7a" stroke-width="1.0" stroke-linejoin="round"/>
<polygon points="1816.20,328.25 1818.56,328.05 1820.91,327.85 1823.27,327.65 1825.62,327.45 1827.97,327.26 1830.33,327.08 1832.68,326.89 1835.04,326.71 1837.39,326.55 1839.75,326.40 1842.11,326.55 1844.46,326.71 1846.82,326.89 1849.17,327.08 1851.53,327.26 1853.88,327.45 1856.23,327.65 1858.59,327.85 1860.94,328.05 1863.30,328.25 1863.30,328.75 1860.94,328.95 1858.59,329.15 1856.23,329.35 1853.88,329.55 1851.53,329.74 1849.17,329.92 1846.82,330.11 1844.46,330.29 1842.11,330.45 1839.75,330.60 1837.39,330.45 1835.04,330.29 1832.68,330.11 1830.33,329.92 1827.97,329.74 1825.62,329.55 1823.27,329.35 1820.91,329.15 1818.56,328.95 1816.20,328.75" fill="#e06f7a" stroke="#e06f7a" stroke-width="1.0" stroke-linejoin="round"/>
<polygon points="1728.90,343.65 1731.37,343.45 1733.84,343.25 1736.31,343.05 1738.78,342.85 1741.25,342.66 1743.72,342.48 1746.19,342.29 1748.66,342.11 1751.13,341.95 1753.60,341.80 1756.07,341.95 1758.54,342.11 1761.01,342.29 1763.48,342.48 1765.95,342.66 1768.42,342.85 1770.89,343.05 1773.36,343.25 1775.83,343.45 1778.30,343.65 1778.30,344.15 1775.83,344.35 1773.36,344.55 1770.89,344.75 1768.42,344.95 1765.95,345.14 1763.48,345.32 1761.01,345.51 1758.54,345.69 1756.07,345.85 1753.60,346.00 1751.13,345.85 1748.66,345.69 1746.19,345.51 1743.72,345.32 1741.25,345.14 1738.78,344.95 1736.31,344.75 1733.84,344.55 1731.37,344.35 1728.90,344.15" fill="#e06f7a" stroke="#e06f7a" stroke-width="1.0" stroke-linejoin="round"/>
<polygon points="1739.80,367.35 1742.25,367.15 1744.71,366.95 1747.16,366.75 1749.62,366.55 1752.08,366.36 1754.53,366.18 1756.98,365.99 1759.44,365.81 1761.89,365.65 1764.35,365.50 1766.81,365.65 1769.26,365.81 1771.72,365.99 1774.17,366.18 1776.62,366.36 1779.08,366.55 1781.54,366.75 1783.99,366.95 1786.45,367.15 1788.90,367.35 1788.90,367.85 1786.45,368.05 1783.99,368.25 1781.54,368.45 1779.08,368.65 1776.62,368.84 1774.17,369.02 1771.72,369.21 1769.26,369.39 1766.81,369.55 1764.35,369.70 1761.89,369.55 1759.44,369.39 1756.98,369.21 1754.53,369.02 1752.08,368.84 1749.62,368.65 1747.16,368.45 1744.71,368.25 1742.25,368.05 1739.80,367.85" fill="#e06f7a" stroke="#e06f7a" stroke-width="1.0" stroke-linejoin="round"/>
<polygon points="1805.00,363.85 1807.43,363.65 1809.87,363.45 1812.31,363.25 1814.74,363.05 1817.17,362.86 1819.61,362.68 1822.05,362.49 1824.48,362.31 1826.91,362.15 1829.35,362.00 1831.79,362.15 1834.22,362.31 1836.65,362.49 1839.09,362.68 1841.53,362.86 1843.96,363.05 1846.39,363.25 1848.83,363.45 1851.27,363.65 1853.70,363.85 1853.70,364.35 1851.27,364.55 1848.83,364.75 1846.39,364.95 1843.96,365.15 1841.53,365.34 1839.09,365.52 1836.65,365.71 1834.22,365.89 1831.79,366.05 1829.35,366.20 1826.91,366.05 1824.48,365.89 1822.05,365.71 1819.61,365.52 1817.17,365.34 1814.74,365.15 1812.31,364.95 1809.87,364.75 1807.43,364.55 1805.00,364.35" fill="#e06f7a" stroke="#e06f7a" stroke-width="1.0" stroke-linejoin="round"/>
<polygon points="1771.90,385.95 1774.38,385.75 1776.87,385.55 1779.36,385.35 1781.84,385.15 1784.33,384.96 1786.81,384.78 1789.30,384.59 1791.78,384.41 1794.27,384.25 1796.75,384.10 1799.23,384.25 1801.72,384.41 1804.20,384.59 1806.69,384.78 1809.17,384.96 1811.66,385.15 1814.14,385.35 1816.63,385.55 1819.12,385.75 1821.60,385.95 1821.60,386.45 1819.12,386.65 1816.63,386.85 1814.14,387.05 1811.66,387.25 1809.17,387.44 1806.69,387.62 1804.20,387.81 1801.72,387.99 1799.23,388.15 1796.75,388.30 1794.27,388.15 1791.78,387.99 1789.30,387.81 1786.81,387.62 1784.33,387.44 1781.84,387.25 1779.36,387.05 1776.87,386.85 1774.38,386.65 1771.90,386.45" fill="#e06f7a" stroke="#e06f7a" stroke-width="1.0" stroke-linejoin="round"/>
<polygon points="1743.10,401.05 1745.58,400.85 1748.06,400.65 1750.54,400.45 1753.02,400.25 1755.50,400.06 1757.98,399.88 1760.46,399.69 1762.94,399.51 1765.42,399.35 1767.90,399.20 1770.38,399.35 1772.86,399.51 1775.34,399.69 1777.82,399.88 1780.30,400.06 1782.78,400.25 1785.26,400.45 1787.74,400.65 1790.22,400.85 1792.70,401.05 1792.70,401.55 1790.22,401.75 1787.74,401.95 1785.26,402.15 1782.78,402.35 1780.30,402.54 1777.82,402.72 1775.34,402.91 1772.86,403.09 1770.38,403.25 1767.90,403.40 1765.42,403.25 1762.94,403.09 1760.46,402.91 1757.98,402.72 1755.50,402.54 1753.02,402.35 1750.54,402.15 1748.06,401.95 1745.58,401.75 1743.10,401.55" fill="#e06f7a" stroke="#e06f7a" stroke-width="1.0" stroke-linejoin="round"/>
<polygon points="1814.00,401.35 1816.43,401.15 1818.87,400.95 1821.31,400.75 1823.74,400.55 1826.17,400.36 1828.61,400.18 1831.05,399.99 1833.48,399.81 1835.91,399.65 1838.35,399.50 1840.79,399.65 1843.22,399.81 1845.65,399.99 1848.09,400.18 1850.53,400.36 1852.96,400.55 1855.39,400.75 1857.83,400.95 1860.27,401.15 1862.70,401.35 1862.70,401.85 1860.27,402.05 1857.83,402.25 1855.39,402.45 1852.96,402.65 1850.53,402.84 1848.09,403.02 1845.65,403.21 1843.22,403.39 1840.79,403.55 1838.35,403.70 1835.91,403.55 1833.48,403.39 1831.05,403.21 1828.61,403.02 1826.17,402.84 1823.74,402.65 1821.31,402.45 1818.87,402.25 1816.43,402.05 1814.00,401.85" fill="#e06f7a" stroke="#e06f7a" stroke-width="1.0" stroke-linejoin="round"/>
<polygon points="1772.90,412.35 1775.34,412.15 1777.77,411.95 1780.21,411.75 1782.64,411.55 1785.08,411.36 1787.51,411.18 1789.94,410.99 1792.38,410.81 1794.82,410.65 1797.25,410.50 1799.68,410.65 1802.12,410.81 1804.56,410.99 1806.99,411.18 1809.42,411.36 1811.86,411.55 1814.29,411.75 1816.73,411.95 1819.16,412.15 1821.60,412.35 1821.60,412.85 1819.16,413.05 1816.73,413.25 1814.29,413.45 1811.86,413.65 1809.42,413.84 1806.99,414.02 1804.56,414.21 1802.12,414.39 1799.68,414.55 1797.25,414.70 1794.82,414.55 1792.38,414.39 1789.94,414.21 1787.51,414.02 1785.08,413.84 1782.64,413.65 1780.21,413.45 1777.77,413.25 1775.34,413.05 1772.90,412.85" fill="#e06f7a" stroke="#e06f7a" stroke-width="1.0" stroke-linejoin="round"/>
<polygon points="1732.10,426.75 1734.57,426.55 1737.04,426.35 1739.51,426.15 1741.98,425.95 1744.45,425.76 1746.92,425.58 1749.39,425.39 1751.86,425.21 1754.33,425.05 1756.80,424.90 1759.27,425.05 1761.74,425.21 1764.21,425.39 1766.68,425.58 1769.15,425.76 1771.62,425.95 1774.09,426.15 1776.56,426.35 1779.03,426.55 1781.50,426.75 1781.50,427.25 1779.03,427.45 1776.56,427.65 1774.09,427.85 1771.62,428.05 1769.15,428.24 1766.68,428.42 1764.21,428.61 1761.74,428.79 1759.27,428.95 1756.80,429.10 1754.33,428.95 1751.86,428.79 1749.39,428.61 1746.92,428.42 1744.45,428.24 1741.98,428.05 1739.51,427.85 1737.04,427.65 1734.57,427.45 1732.10,427.25" fill="#e06f7a" stroke="#e06f7a" stroke-width="1.0" stroke-linejoin="round"/>
<polygon points="1808.20,426.45 1810.63,426.25 1813.07,426.05 1815.51,425.85 1817.94,425.65 1820.38,425.46 1822.81,425.28 1825.25,425.09 1827.68,424.91 1830.12,424.75 1832.55,424.60 1834.99,424.75 1837.42,424.91 1839.86,425.09 1842.29,425.28 1844.73,425.46 1847.16,425.65 1849.60,425.85 1852.03,426.05 1854.47,426.25 1856.90,426.45 1856.90,426.95 1854.47,427.15 1852.03,427.35 1849.60,427.55 1847.16,427.75 1844.73,427.94 1842.29,428.12 1839.86,428.31 1837.42,428.49 1834.99,428.65 1832.55,428.80 1830.12,428.65 1827.68,428.49 1825.25,428.31 1822.81,428.12 1820.38,427.94 1817.94,427.75 1815.51,427.55 1813.07,427.35 1810.63,427.15 1808.20,426.95" fill="#e06f7a" stroke="#e06f7a" stroke-width="1.0" stroke-linejoin="round"/>
<polygon points="1766.50,444.05 1768.90,443.85 1771.31,443.65 1773.71,443.45 1776.12,443.25 1778.53,443.06 1780.93,442.88 1783.34,442.69 1785.74,442.51 1788.14,442.35 1790.55,442.20 1792.95,442.35 1795.36,442.51 1797.76,442.69 1800.17,442.88 1802.57,443.06 1804.98,443.25 1807.38,443.45 1809.79,443.65 1812.19,443.85 1814.60,444.05 1814.60,444.55 1812.19,444.75 1809.79,444.95 1807.38,445.15 1804.98,445.35 1802.57,445.54 1800.17,445.72 1797.76,445.91 1795.36,446.09 1792.95,446.25 1790.55,446.40 1788.14,446.25 1785.74,446.09 1783.34,445.91 1780.93,445.72 1778.53,445.54 1776.12,445.35 1773.71,445.15 1771.31,444.95 1768.90,444.75 1766.50,444.55" fill="#e06f7a" stroke="#e06f7a" stroke-width="1.0" stroke-linejoin="round"/>
<line x1="1803.8" y1="339.7" x2="1822.1" y2="339.7" stroke="#27ad5a" stroke-width="2.4" />
<line x1="1729.1" y1="353.5" x2="1747.0" y2="353.5" stroke="#27ad5a" stroke-width="2.4" />
<line x1="1784.3" y1="435.7" x2="1796.5" y2="435.7" stroke="#27ad5a" stroke-width="2.4" />
<line x1="1830.5" y1="444.3" x2="1849.1" y2="444.3" stroke="#27ad5a" stroke-width="2.4" />
<line x1="1669.0" y1="386.2" x2="1720.4" y2="386.2" stroke="#000" stroke-width="2.8" />
<polygon points="1670.7,379.3 1642.5,386.2 1670.7,393.1" fill="#000"/>
<line x1="1875.7" y1="386.2" x2="1926.0" y2="386.2" stroke="#000" stroke-width="2.8" />
<polygon points="1924.8,379.3 1953,386.2 1924.8,393.1" fill="#000"/>
<text x="0" y="0" font-size="33" transform="translate(1674.7,376.2) scale(1.27,1)">σ</text>
<text x="0" y="0" font-size="33" transform="translate(1897.2,376.2) scale(1.27,1)">σ</text>
<rect x="1711" y="461" width="179" height="47" fill="#fff"/>
<text x="1712.3" y="500.0" font-size="33.1" fill="#000" text-anchor="start" font-weight="normal" >Tensile stress</text>
<rect x="1401.5" y="344" width="10.8" height="55" fill="#2c90d3"/>
<polygon points="1394,344.6 1407,319 1420,344.6" fill="#2c90d3"/>
<rect x="1797.3" y="224.5" width="10.7" height="55" fill="#2c90d3"/>
<polygon points="1789.3,278.9 1815.5,278.9 1802.4,304.5" fill="#2c90d3"/>
<line x1="1720.0" y1="88.6" x2="1809.0" y2="88.6" stroke="#f00" stroke-width="4" stroke-linecap="round"/>
<rect x="1755.8" y="80.7" width="16.9" height="16" fill="#f00"/>
<text x="1817.8" y="102.4" font-size="37.1" fill="#000" text-anchor="start" font-weight="normal" >175°C</text>
<polyline points="1246.5,494.3 1336.2,449.9 1425.9,405.3 1515.6,359.3 1605.2,311.5 1694.9,262.7 1784.6,213.1 1874.3,162.3 1964.0,109.9" fill="none" stroke="#f00" stroke-width="4"/>
<rect x="1238.3" y="486.5" width="16.4" height="15.6" fill="#f00"/>
<rect x="1328.0" y="442.1" width="16.4" height="15.6" fill="#f00"/>
<rect x="1417.7" y="397.5" width="16.4" height="15.6" fill="#f00"/>
<rect x="1507.4" y="351.5" width="16.4" height="15.6" fill="#f00"/>
<rect x="1597.0" y="303.7" width="16.4" height="15.6" fill="#f00"/>
<rect x="1686.7" y="254.9" width="16.4" height="15.6" fill="#f00"/>
<rect x="1776.4" y="205.3" width="16.4" height="15.6" fill="#f00"/>
<rect x="1866.1" y="154.5" width="16.4" height="15.6" fill="#f00"/>
<rect x="1955.8" y="102.1" width="16.4" height="15.6" fill="#f00"/>
</svg></body></html>
